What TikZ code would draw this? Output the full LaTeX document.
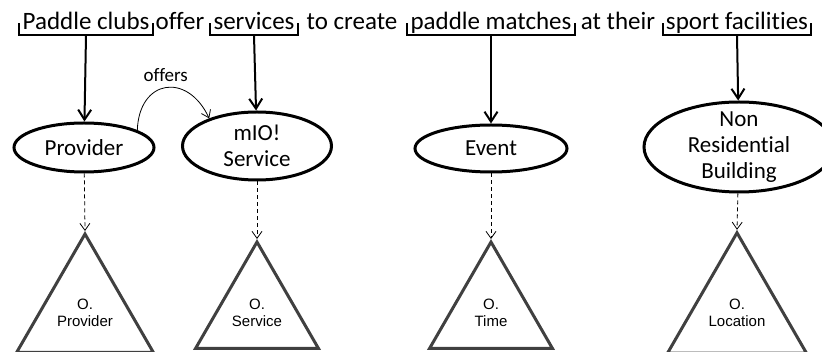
\documentclass[tikz,border=0pt]{standalone}
\usepackage{fontspec}
\setmainfont{Carlito}[Ligatures={NoCommon}]
\newfontfamily\arialfont{Liberation Sans}
\usetikzlibrary{shapes.geometric,arrows.meta}

\begin{document}
\begin{tikzpicture}[x=1pt,y=1pt]
                \tikzstyle{phrase}=[anchor=base,inner xsep=3pt,inner ysep=0pt,text depth=5pt,font=\fontsize{25}{30}\selectfont]
                \tikzstyle{words}=[anchor=base,inner sep=0pt,font=\fontsize{25}{30}\selectfont]
                \tikzstyle{concept}=[ellipse,draw,line width=3pt,inner sep=0pt,align=center,font=\fontsize{23}{26}\selectfont]
                \tikzstyle{onto}=[regular polygon,regular polygon sides=3,draw=black!75,line width=3pt,minimum size=142pt,inner sep=0pt,align=center,font=\arialfont\fontsize{15}{17}\selectfont]
                \tikzstyle{brace}=[line width=2pt]
                \tikzstyle{maps}=[line width=2pt,-{Straight Barb[length=10pt,width=13pt]}]
                \tikzstyle{aligns}=[line width=0.8pt,dash pattern=on 4pt off 3pt,-{Straight Barb[length=7pt,width=10pt]}]
                \tikzstyle{offer}=[line width=0.8pt,-{Straight Barb[length=7pt,width=10pt]}]
                
                \useasboundingbox (0,0) rectangle (822,-352);
                
                % the sentence
                \node[phrase] (clubs) at (86,-30) {Paddle clubs};
                \node[words] (w1) at (180,-30) {offer};
                \node[phrase] (servs) at (254,-30) {services};
                \node[words] (w2) at (352,-30) {to create};
                \node[phrase] (match) at (491,-30) {paddle matches};
                \node[words] (w3) at (618,-30) {at their};
                \node[phrase] (facil) at (737,-30) {sport facilities};
                
                \foreach \p in {clubs,servs,match,facil}
                  \draw[brace] ([yshift=12pt]\p.south west) -- (\p.south west) -- (\p.south east) -- ([yshift=12pt]\p.south east);
                
                % concepts
                \node[concept,minimum width=140pt,minimum height=49pt] (prov) at (84,-147.5) {Provider};
                \node[concept,minimum width=149pt,minimum height=68pt] (svc) at (257,-146) {mIO!\\Service};
                \node[concept,minimum width=152pt,minimum height=47pt] (event) at (491,-148.5) {Event};
                \node[concept,minimum width=190pt,minimum height=90pt,inner ysep=-8pt] (build) at (739,-147) {Non\\Residential\\Building};
                
                % ontologies
                \node[onto] (oprov) at (85,-313) {O.\\Provider};
                \node[onto] (osvc) at (257,-313) {O.\\Service};
                \node[onto] (otime) at (491,-313) {O.\\Time};
                \node[onto] (oloc) at (737,-313) {O.\\Location};
                
                \draw[maps] (clubs.south) -- (prov);
                \draw[maps] (servs.south) -- (svc);
                \draw[maps] (match.south) -- (event);
                \draw[maps] (facil.south) -- (build);
                
                \draw[aligns] (prov) -- (oprov.corner 1);
                \draw[aligns] (svc) -- (osvc.corner 1);
                \draw[aligns] (event) -- (otime.corner 1);
                \draw[aligns] (build) -- (oloc.corner 1);
                
                \draw[offer] (prov.18) to[out=88,in=115,looseness=1.8] node[above=2pt,font=\fontsize{19}{22}\selectfont] {offers} (svc.150);
\end{tikzpicture}
\end{document}
